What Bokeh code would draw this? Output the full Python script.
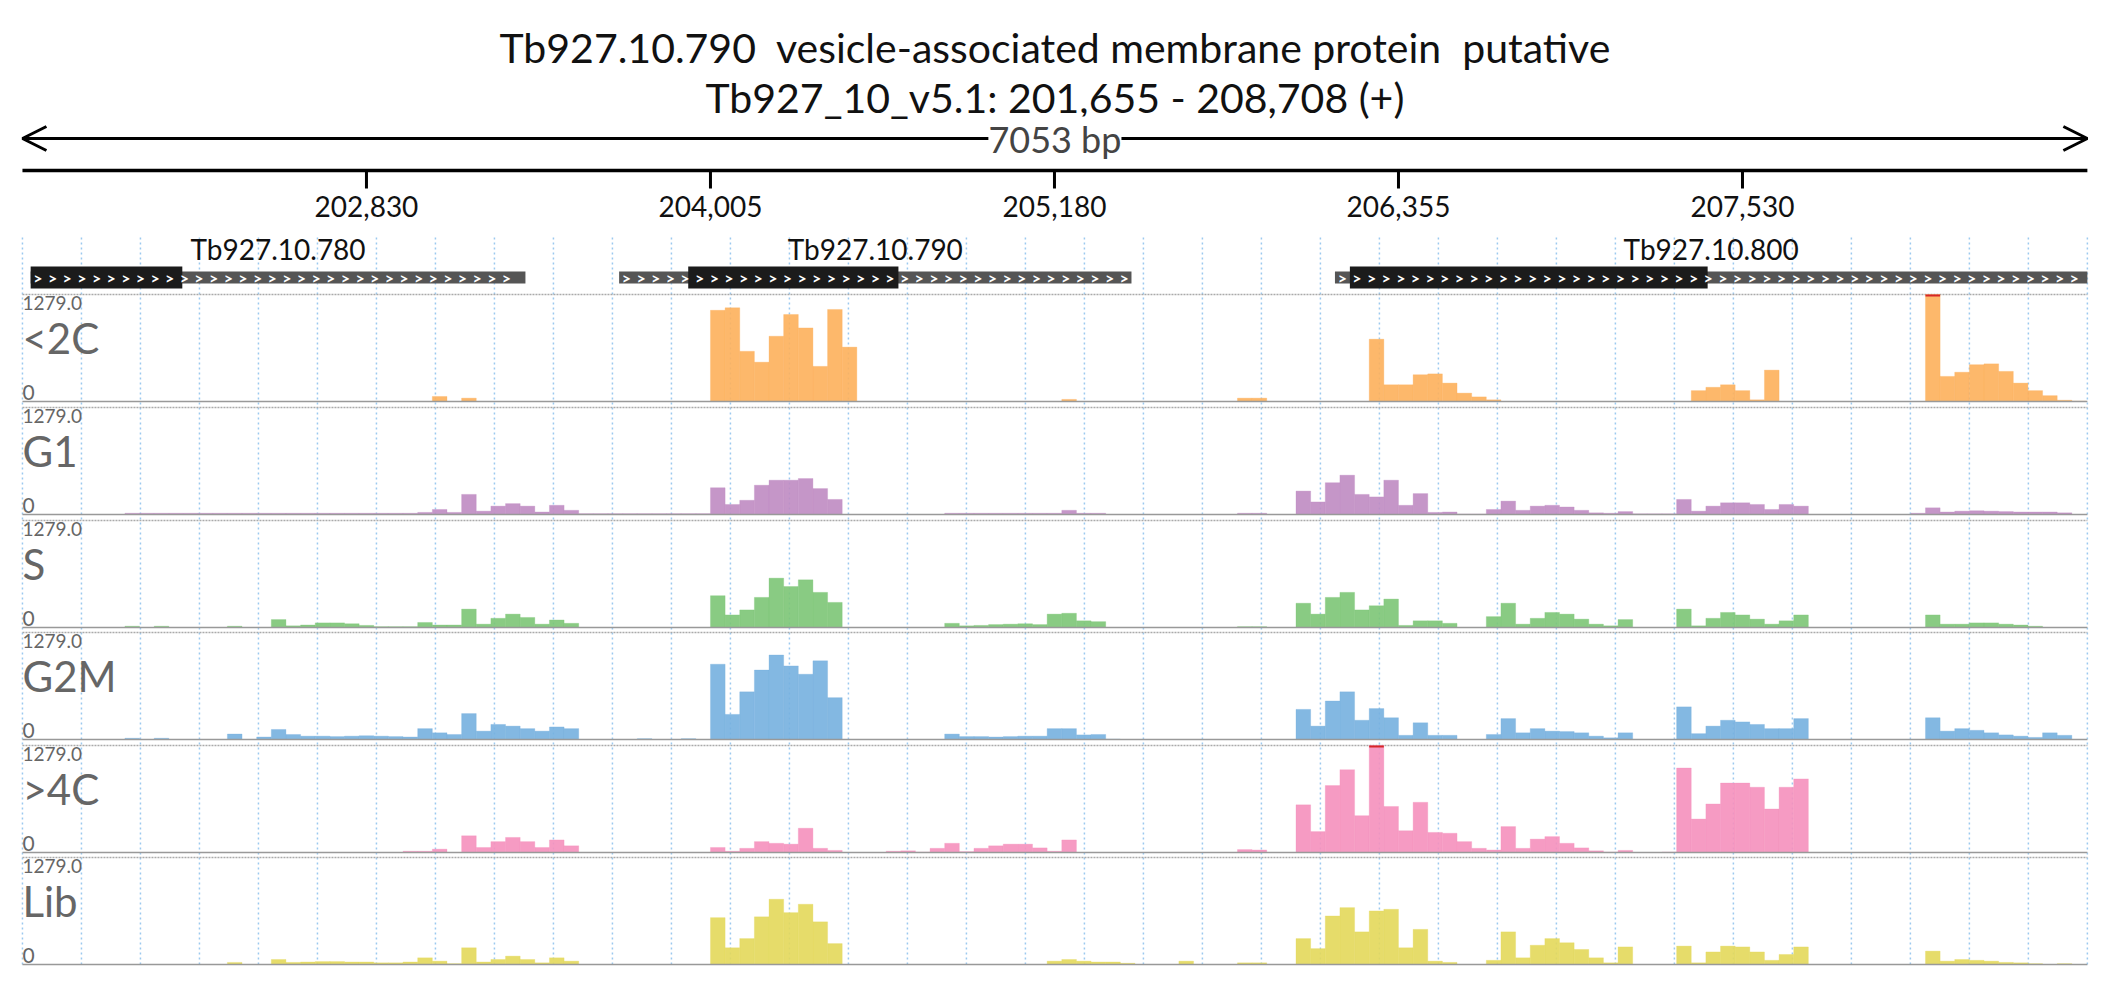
import numpy as np
from bokeh.plotting import figure
from bokeh.models import Range1d, Label, Arrow, OpenHead
from bokeh.core.properties import value
from bokeh.embed import file_html
from bokeh.resources import INLINE

# region and layout of the browser view
chrom_start = 201655
chrom_end = 208708
bin_bp = 50
n_bins = 141
ticks = [202830, 204005, 205180, 206355, 207530]

genes = ["Tb927.10.780", "Tb927.10.790", "Tb927.10.800"]
gene_start = [201683, 203693, 206138]
gene_end = [203373, 205443, 208708]
cds_start = [201683, 203929, 206189]
cds_end = [202201, 204647, 207411]

tracks = ["<2C", "G1", "S", "G2M", ">4C", "Lib"]
colors = ["#fdb05b", "#bf8bc2", "#7cc576", "#75b0df", "#f590bd", "#e3d85a"]
track_max = 1279.0

# coverage per 50 bp bin, written as runs (first bin, values)
cov_2c = [(28, [60, 0, 40]),
          (47, [1090, 1120, 600, 470, 780, 1040, 880, 420, 1100, 650]),
          (71, [25]), (83, [40, 40]),
          (92, [745, 200, 200, 320, 330, 220, 100, 55, 20]),
          (114, [130, 170, 200, 130, 20, 375]),
          (130, [1279, 300, 350, 440, 450, 360, 220, 130, 70, 15, 5])]
cov_g1 = [(7, [15] * 20),
          (27, [25, 60, 25, 240, 40, 100, 130, 100, 30, 110, 50]),
          (38, [10] * 9),
          (47, [320, 120, 170, 350, 410, 410, 430, 310, 180]),
          (63, [15, 15, 15, 15, 15, 15, 15, 15, 50, 15, 15]),
          (83, [15, 15]),
          (87, [280, 150, 380, 470, 240, 210, 410, 110, 250, 25, 30, 5, 5, 60, 160, 50, 100, 110,
                90, 50, 20, 15, 35, 8, 8, 8, 180, 40, 100, 140, 140, 120, 60, 120, 100]),
          (129, [15, 80, 30, 40, 45, 40, 35, 30, 30, 30, 20])]
cov_s = [(7, [15, 0, 15, 0, 0, 0, 0, 15, 0, 0, 95, 20, 30, 55, 55, 45, 25, 10, 10, 10,
              60, 30, 30, 220, 40, 110, 160, 120, 40, 90, 50]),
         (47, [380, 150, 210, 360, 590, 490, 570, 420, 300]),
         (63, [50, 20, 25, 35, 40, 45, 35, 160, 170, 80, 70]),
         (83, [10, 10]),
         (87, [290, 160, 360, 420, 210, 260, 340, 25, 80, 80, 50, 0, 0, 130, 290, 40, 110, 180,
               160, 100, 40, 20, 95, 0, 0, 0, 220, 20, 110, 180, 150, 100, 40, 80, 150]),
         (130, [150, 40, 40, 55, 55, 40, 30, 15])]
cov_g2m = [(7, [15, 0, 15, 0, 0, 0, 0, 65, 0, 30, 120, 60, 40, 40, 35, 40, 45, 40, 35, 30,
                130, 80, 60, 310, 100, 180, 160, 130, 100, 150, 130]),
           (42, [10, 0, 0, 10, 0, 900, 300, 570, 830, 1010, 880, 780, 940, 500]),
           (63, [65, 35, 35, 30, 35, 40, 40, 130, 130, 55, 60, 5]),
           (87, [360, 160, 460, 570, 230, 370, 260, 50, 200, 50, 50, 0, 0, 60, 250, 80, 130, 100,
                 95, 80, 40, 20, 80, 0, 0, 0, 390, 70, 160, 230, 210, 180, 130, 130, 250]),
           (130, [260, 100, 130, 110, 80, 55, 40, 25, 80, 50])]
cov_4c = [(26, [15, 15, 40, 0, 200, 60, 130, 180, 130, 60, 150, 80]),
          (47, [60, 15, 50, 130, 110, 100, 290, 50, 25]),
          (59, [15, 20, 5, 50, 110, 10, 50, 80, 100, 100, 55, 15, 150]),
          (83, [35, 30]),
          (87, [570, 250, 800, 990, 440, 1279, 550, 260, 600, 240, 230, 130, 50, 30, 310, 50, 160,
                190, 110, 55, 20, 5, 25, 0, 0, 5, 1010, 400, 580, 830, 830, 780, 520, 780, 880])]
cov_lib = [(14, [25, 0, 0, 60, 25, 30, 35, 35, 30, 30, 20, 20, 30, 80, 40, 10, 200, 30, 60, 100,
                 60, 20, 80, 40]),
           (47, [560, 200, 310, 570, 780, 620, 720, 510, 250]),
           (70, [40, 60, 40, 30, 30, 15]), (79, [40]), (83, [20, 20]),
           (87, [310, 190, 580, 680, 390, 640, 660, 200, 420, 40, 25, 0, 0, 50, 390, 80, 230, 310,
                 260, 180, 80, 20, 210, 0, 0, 0, 220, 20, 150, 220, 210, 150, 50, 120, 210]),
           (130, [160, 40, 60, 50, 40, 25, 20, 10, 0, 10])]
coverage = [cov_2c, cov_g1, cov_s, cov_g2m, cov_4c, cov_lib]


def fill(runs):
    arr = np.zeros(n_bins)
    for b, vals in runs:
        arr[b:b + len(vals)] = vals
    return arr


FONT = value("Lato")
W, H = 2110, 984
p = figure(width=W, height=H, output_backend="svg", toolbar_location=None,
           x_range=Range1d(201580, 208787), y_range=Range1d(984, 0), min_border=0)
p.axis.visible = False
p.grid.visible = False
p.outline_line_color = None

mid = (chrom_start + chrom_end) / 2
sp = " \u00a0"

# title
p.text(x=[mid, mid], y=[47, 97],
       text=[f"Tb927.10.790{sp}vesicle-associated membrane protein{sp}putative",
             "Tb927_10_v5.1: 201,655 - 208,708 (+)"],
       text_font=FONT, text_font_size="41px", text_align="center", text_baseline="middle",
       text_color="#111111")

# length arrow
p.add_layout(Arrow(start=OpenHead(size=24, line_width=3), end=OpenHead(size=24, line_width=3),
                   x_start=chrom_start, y_start=138, x_end=chrom_end, y_end=138, line_width=3))
p.add_layout(Label(x=mid, y=138, text=f"{chrom_end - chrom_start} bp", text_font="Lato",
                   text_font_size="36px", text_align="center", text_baseline="middle",
                   background_fill_color="white"))

# ruler
p.segment(x0=[chrom_start], y0=[170], x1=[chrom_end], y1=[170], line_width=3.5, line_color="black")
p.segment(x0=ticks, y0=[170] * 5, x1=ticks, y1=[188] * 5, line_width=3, line_color="black")
p.text(x=ticks, y=[206] * 5, text=[f"{t:,}" for t in ticks], text_font=FONT,
       text_font_size="28px", text_align="center", text_baseline="middle", text_color="#111111")

# grid
grid_x = chrom_start + np.arange(36) * (chrom_end - chrom_start) / 35
p.segment(x0=grid_x, y0=[237] * 36, x1=grid_x, y1=[966] * 36, line_color="#9cc9ef",
          line_width=1.5, line_dash="2 3")

# genes
gy = 277
for g, gs, ge, cs, ce in zip(genes, gene_start, gene_end, cds_start, cds_end):
    p.quad(left=gs, right=ge, bottom=gy + 6, top=gy - 6, fill_color="#555555", line_color=None)
    p.quad(left=cs, right=ce, bottom=gy + 11, top=gy - 11, fill_color="#1b1b1b", line_color=None)
    cx = np.arange(gs + 25, ge - 20, 50)
    p.text(x=cx, y=[gy] * len(cx), text=[">"] * len(cx), text_font=FONT, text_font_size="16px",
           text_color="white", text_align="center", text_baseline="middle", text_font_style="bold")
    p.text(x=[(gs + ge) / 2], y=[248], text=[g], text_font=FONT, text_font_size="28px",
           text_align="center", text_baseline="middle", text_color="#111111")

# coverage tracks
tops = [294, 407, 520, 632, 745, 857]
th = 107
left = chrom_start + np.arange(n_bins) * bin_bp
right = np.minimum(left + bin_bp, chrom_end)
for name, col, runs, top in zip(tracks, colors, coverage, tops):
    base = top + th
    vals = fill(runs)
    p.segment(x0=[chrom_start], y0=[top], x1=[chrom_end], y1=[top], line_color="#aaaaaa",
              line_width=1.5, line_dash="2 1")
    nz = vals > 0
    p.quad(left=left[nz], right=right[nz], bottom=base, top=base - vals[nz] / track_max * th,
           fill_color=col, fill_alpha=0.9, line_color=col, line_alpha=0.6, line_width=0.5)
    cap = vals >= track_max
    if cap.any():
        p.quad(left=left[cap], right=right[cap], bottom=top + 2, top=top, fill_color="#d62728",
               line_color=None)
    p.segment(x0=[chrom_start], y0=[base], x1=[chrom_end], y1=[base], line_color="#999999",
              line_width=1.5)
    p.text(x=[chrom_start], y=[top + 1], text=[f"{track_max:.1f}"], text_font=FONT,
           text_font_size="19px", text_baseline="top", text_color="#666666")
    p.text(x=[chrom_start], y=[top + 18], text=[name], text_font=FONT,
           text_font_size="42px", text_baseline="top", text_color="#666666")
    p.text(x=[chrom_start], y=[base - 2], text=["0"], text_font=FONT,
           text_font_size="21px", text_baseline="bottom", text_color="#666666")

open("out.html", "w").write(file_html(p, INLINE))
